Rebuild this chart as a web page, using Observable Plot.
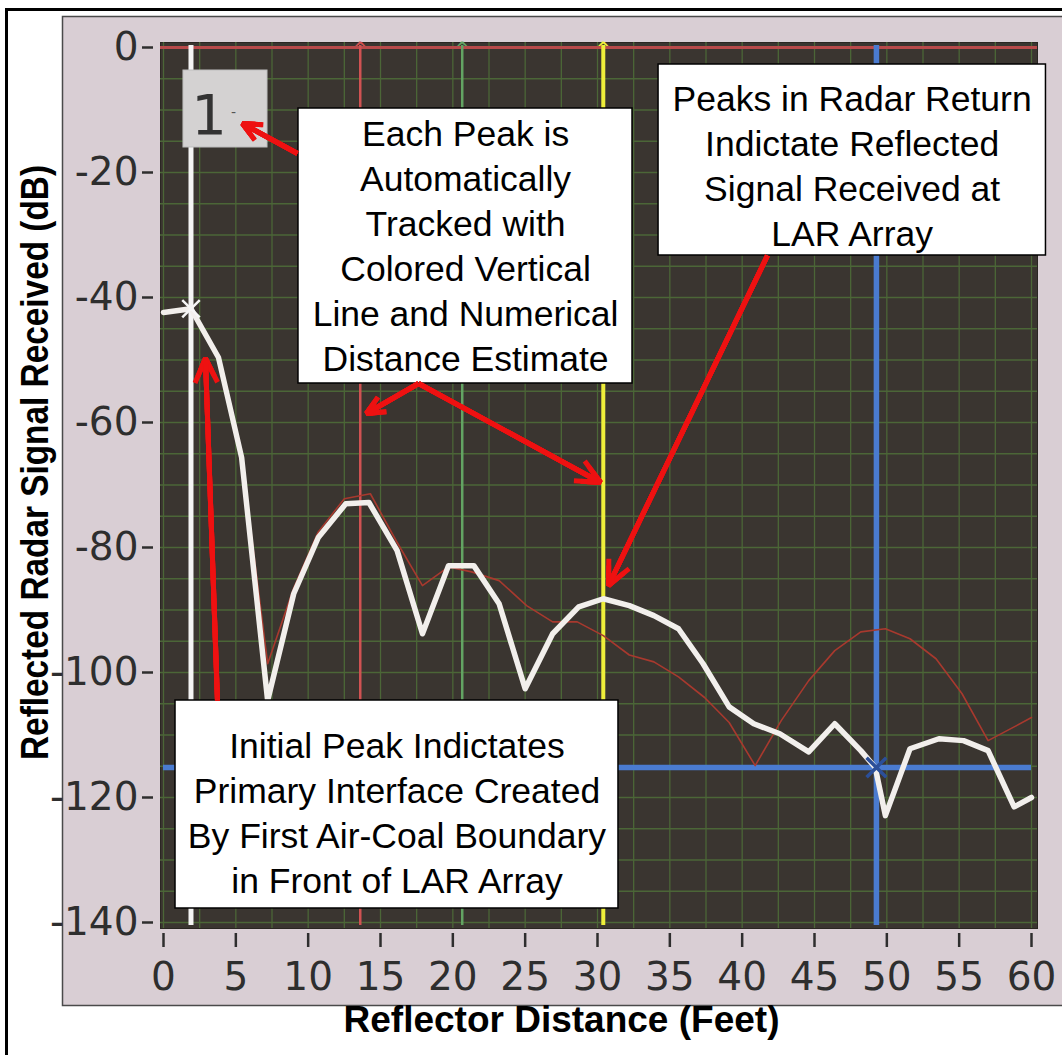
<!DOCTYPE html>
<html>
<head>
<meta charset="utf-8">
<script src="https://cdn.jsdelivr.net/npm/d3@7"></script>
<script src="https://cdn.jsdelivr.net/npm/@observablehq/plot@0.6"></script>
<style>
  body { margin: 0; background: #ffffff; }
  #chart svg { display: block; }
</style>
</head>
<body>
<div id="chart"></div>
<script>
// ---------------- data ----------------
const xTicks = [0, 5, 10, 15, 20, 25, 30, 35, 40, 45, 50, 55, 60];
const yTicks = [0, -20, -40, -60, -80, -100, -120, -140];

// radar return (white trace)
const whiteX = [0, 1.9, 3.8, 5.4, 7.2, 9.0, 10.7, 12.6, 14.2, 16.15, 17.9, 19.7, 21.45, 23.2, 25.0, 26.9, 28.7, 30.4, 32.2, 33.9, 35.6, 37.3, 39.1, 40.8, 42.6, 44.6, 46.4, 48.2, 49.2, 49.9, 51.6, 53.6, 55.3, 57.0, 58.8, 60];
const whiteY = [-42.4, -41.8, -49.6, -65.6, -104.5, -87.4, -78.4, -73.0, -72.8, -80.5, -93.8, -82.9, -82.9, -89.0, -102.6, -93.8, -89.5, -88.2, -89.3, -90.9, -93.0, -98.6, -105.5, -108.2, -109.8, -112.7, -108.2, -112.5, -115.2, -122.9, -112.2, -110.6, -110.9, -112.5, -121.5, -120.0];

// second (thin red) trace
const redX = [0, 1.9, 3.8, 5.4, 7.2, 9.0, 10.7, 12.5, 14.3, 16.1, 17.9, 19.7, 21.3, 23.2, 25.1, 26.9, 28.6, 30.4, 32.2, 33.9, 35.6, 37.4, 39.1, 40.9, 42.7, 44.6, 46.4, 48.2, 49.9, 51.6, 53.4, 55.2, 57.0, 58.8, 60];
const redY = [-42.4, -41.8, -49.6, -65.6, -98.6, -86.5, -77.5, -72.2, -71.4, -79.0, -86.1, -83.1, -83.9, -85.3, -89.3, -91.9, -91.9, -94.1, -97.2, -98.3, -100.7, -104.0, -108.0, -114.9, -107.7, -101.3, -96.5, -93.5, -93.0, -94.6, -97.8, -103.4, -110.9, -108.7, -107.2];

// tracked peak cursors
const cursorNames = ["white", "red", "green", "yellow", "blue"];
const cursorX = [1.9, 13.6, 20.65, 30.4, 49.28];
const cursorColors = ["#f4f4f4", "#d05252", "#63a463", "#eeee3a", "#4a7bd0"];
const cursorWidths = [5, 2.5, 2.5, 4, 5.5];
const blueCursorY = -115.2;
const markerX = [1.9, 49.28];
const markerY = [-41.8, -115.2];

// texts
const xTitle = "Reflector Distance (Feet)";
const yTitle = "Reflected Radar Signal Received (dB)";
const cursorLabel = "1";
const notes = [
  "Each Peak is\nAutomatically\nTracked with\nColored Vertical\nLine and Numerical\nDistance Estimate",
  "Peaks in Radar Return\nIndictate Reflected\nSignal Received at\nLAR Array",
  "Initial Peak Indictates\nPrimary Interface Created\nBy First Air-Coal Boundary\nin Front of LAR Array"
];
// annotation placement (data units)
const noteBoxes = [
  {x1: 9.33, x2: 32.42, y1: -9.76, y2: -53.76},
  {x1: 34.22, x2: 61.0, y1: -2.72, y2: -33.28},
  {x1: 0.83, x2: 31.45, y1: -104.48, y2: -137.76}
];
const noteCenters = [
  {x: 20.88, y: -31.4},
  {x: 47.6, y: -18.6},
  {x: 16.14, y: -122.2}
];
const arrows = [
  {x1: 9.26, y1: -16.96, x2: 5.46, y2: -12.16},
  {x1: 17.63, y1: -53.76, x2: 14.03, y2: -58.56},
  {x1: 17.63, y1: -53.76, x2: 30.21, y2: -69.6},
  {x1: 41.75, y1: -33.28, x2: 30.76, y2: -86.08},
  {x1: 3.73, y1: -104.48, x2: 2.9, y2: -49.76}
];
const labelBox = [{x1: 1.38, x2: 7.19, y1: -3.68, y2: -16.0}];

// ---------------- build ----------------
const white = whiteX.map((x, i) => ({x, y: whiteY[i]}));
const red = redX.map((x, i) => ({x, y: redY[i]}));
const xMinor = d3.range(0, 60.01, 2.5);
const yMinor = d3.range(-140, -1, 5);
const gridColor = "#4b6637";

const cursorMarks = cursorX.map((cx, i) =>
  Plot.ruleX([cx], {stroke: cursorColors[i], strokeWidth: cursorWidths[i], insetTop: -2, insetBottom: -3})
);

const arrowMarks = [8, 6, 4, 2].map(h =>
  Plot.arrow(arrows, {x1: "x1", y1: "y1", x2: "x2", y2: "y2", stroke: "#ee1111", strokeWidth: 5, headLength: h, headAngle: 50, strokeLinecap: "butt"})
);

const chart = Plot.plot({
  width: 1062,
  height: 1055,
  marginLeft: 163,
  marginRight: 31,
  marginTop: 47,
  marginBottom: 133,
  x: {domain: [0, 60], axis: null},
  y: {domain: [-140, 0], axis: null},
  style: {background: "#ffffff", fontFamily: "DejaVu Sans", overflow: "visible"},
  marks: [
    // outer border, panel and plot area
    Plot.frame({stroke: "#000000", strokeWidth: 3, fill: "none", insetLeft: -157, insetTop: -38, insetRight: -40, insetBottom: -145}),
    Plot.frame({fill: "#d9ced4", stroke: "#4a4a4a", strokeWidth: 1.5, insetLeft: -101, insetTop: -31, insetRight: -40, insetBottom: -83}),
    Plot.frame({fill: "#3a3530", stroke: "#2a2622", strokeWidth: 1, insetLeft: -3, insetTop: -5, insetRight: -6, insetBottom: -6}),
    // grid
    Plot.ruleX(xMinor, {stroke: gridColor, strokeWidth: 1.3, insetTop: -5, insetBottom: -6}),
    Plot.ruleY(yMinor, {stroke: gridColor, strokeWidth: 1.3, insetLeft: -3, insetRight: -6}),
    Plot.ruleY([0], {stroke: "#b84a4a", strokeWidth: 3, insetLeft: -3, insetRight: -6}),
    // cursors
    ...cursorMarks,
    Plot.ruleY([blueCursorY], {x1: 0, x2: 60, stroke: "#4a7bd0", strokeWidth: 5.5}),
    Plot.text([1, 2, 3], {x: i => cursorX[i], frameAnchor: "top", lineAnchor: "top", dy: -6, text: () => "^", fontSize: 16, fontWeight: "bold", fill: i => ["", "#d05252", "#63a463", "#eeee3a"][i]}),
    // traces
    Plot.line(red, {x: "x", y: "y", stroke: "#a8392e", strokeWidth: 1.6}),
    Plot.line(white, {x: "x", y: "y", stroke: "#f2efec", strokeWidth: 5.5, strokeLinejoin: "round"}),
    // crosshair markers
    Plot.dot([0], {x: i => markerX[i], y: i => markerY[i], symbol: "times", r: 8, stroke: "#f6f6f6", strokeWidth: 2.5}),
    Plot.dot([1], {x: i => markerX[i], y: i => markerY[i], symbol: "times", r: 9, stroke: "#2b4f99", strokeWidth: 3.5}),
    // cursor label box "1"
    Plot.rect(labelBox, {x1: "x1", x2: "x2", y1: "y1", y2: "y2", fill: "#d4d2d2", stroke: "#bdbdbd", strokeWidth: 1}),
    Plot.text([cursorLabel], {x: 3.15, y: -10.9, text: d => d, fontSize: 56, fill: "#333333", fontFamily: "DejaVu Sans"}),
    Plot.text(["-"], {x: 4.84, y: -10.4, text: d => d, fontSize: 14, fill: "#555555"}),
    // annotation boxes
    Plot.rect(noteBoxes, {x1: "x1", x2: "x2", y1: "y1", y2: "y2", fill: "#ffffff", stroke: "#000000", strokeWidth: 1.5}),
    Plot.text(notes, {x: (d, i) => noteCenters[i].x, y: (d, i) => noteCenters[i].y, text: d => d, fontSize: 35.5, lineHeight: 45 / 35.5, fill: "#000000", fontFamily: "Liberation Sans, Arial, sans-serif"}),
    ...arrowMarks,
    // axes
    Plot.ruleX(xTicks, {stroke: "#2e2e2e", strokeWidth: 2.5, insetTop: 886, insetBottom: -25}),
    Plot.text(xTicks, {x: d => d, frameAnchor: "bottom", lineAnchor: "top", dy: 40, text: d => `${d}`, fontSize: 39, fill: "#2e2e2e", fontFamily: "DejaVu Sans"}),
    Plot.ruleY(yTicks, {stroke: "#2e2e2e", strokeWidth: 2.5, insetLeft: -21, insetRight: 878}),
    Plot.text(yTicks, {y: d => d, frameAnchor: "left", textAnchor: "end", dx: -25, text: d => `${d}`, fontSize: 39, fill: "#2e2e2e", fontFamily: "DejaVu Sans", ariaLabel: "ytick-labels"}),
    // titles
    Plot.text([xTitle], {frameAnchor: "bottom", textAnchor: "middle", dx: -36, dy: 109.5, text: d => d, fontSize: 37, fontWeight: "bold", fill: "#000000", fontFamily: "Liberation Sans, Arial, sans-serif"}),
    Plot.text([yTitle], {frameAnchor: "left", textAnchor: "middle", dx: -128, dy: -22.5, rotate: -90, text: d => d, fontSize: 38, fontWeight: "bold", fill: "#000000", fontFamily: "Liberation Sans, Arial, sans-serif"})
  ]
});

document.getElementById("chart").appendChild(chart);

// clip the y tick labels to the instrument panel, condense the y title
const NS = "http://www.w3.org/2000/svg";
const defs = document.createElementNS(NS, "defs");
const cp = document.createElementNS(NS, "clipPath");
cp.setAttribute("id", "panelClip");
const cr = document.createElementNS(NS, "rect");
cr.setAttribute("x", 63); cr.setAttribute("y", 0); cr.setAttribute("width", 1000); cr.setAttribute("height", 1055);
cp.appendChild(cr); defs.appendChild(cp); chart.insertBefore(defs, chart.firstChild);
const lab = chart.querySelector('g[aria-label="ytick-labels"]');
if (lab) {
  const wrap = document.createElementNS(NS, "g");
  wrap.setAttribute("clip-path", "url(#panelClip)");
  lab.parentNode.insertBefore(wrap, lab);
  wrap.appendChild(lab);
}
d3.select(chart).selectAll("text").filter(function () { return this.textContent === yTitle; })
  .attr("text-anchor", "middle").attr("textLength", 595).attr("lengthAdjust", "spacingAndGlyphs");
</script>
</body>
</html>
